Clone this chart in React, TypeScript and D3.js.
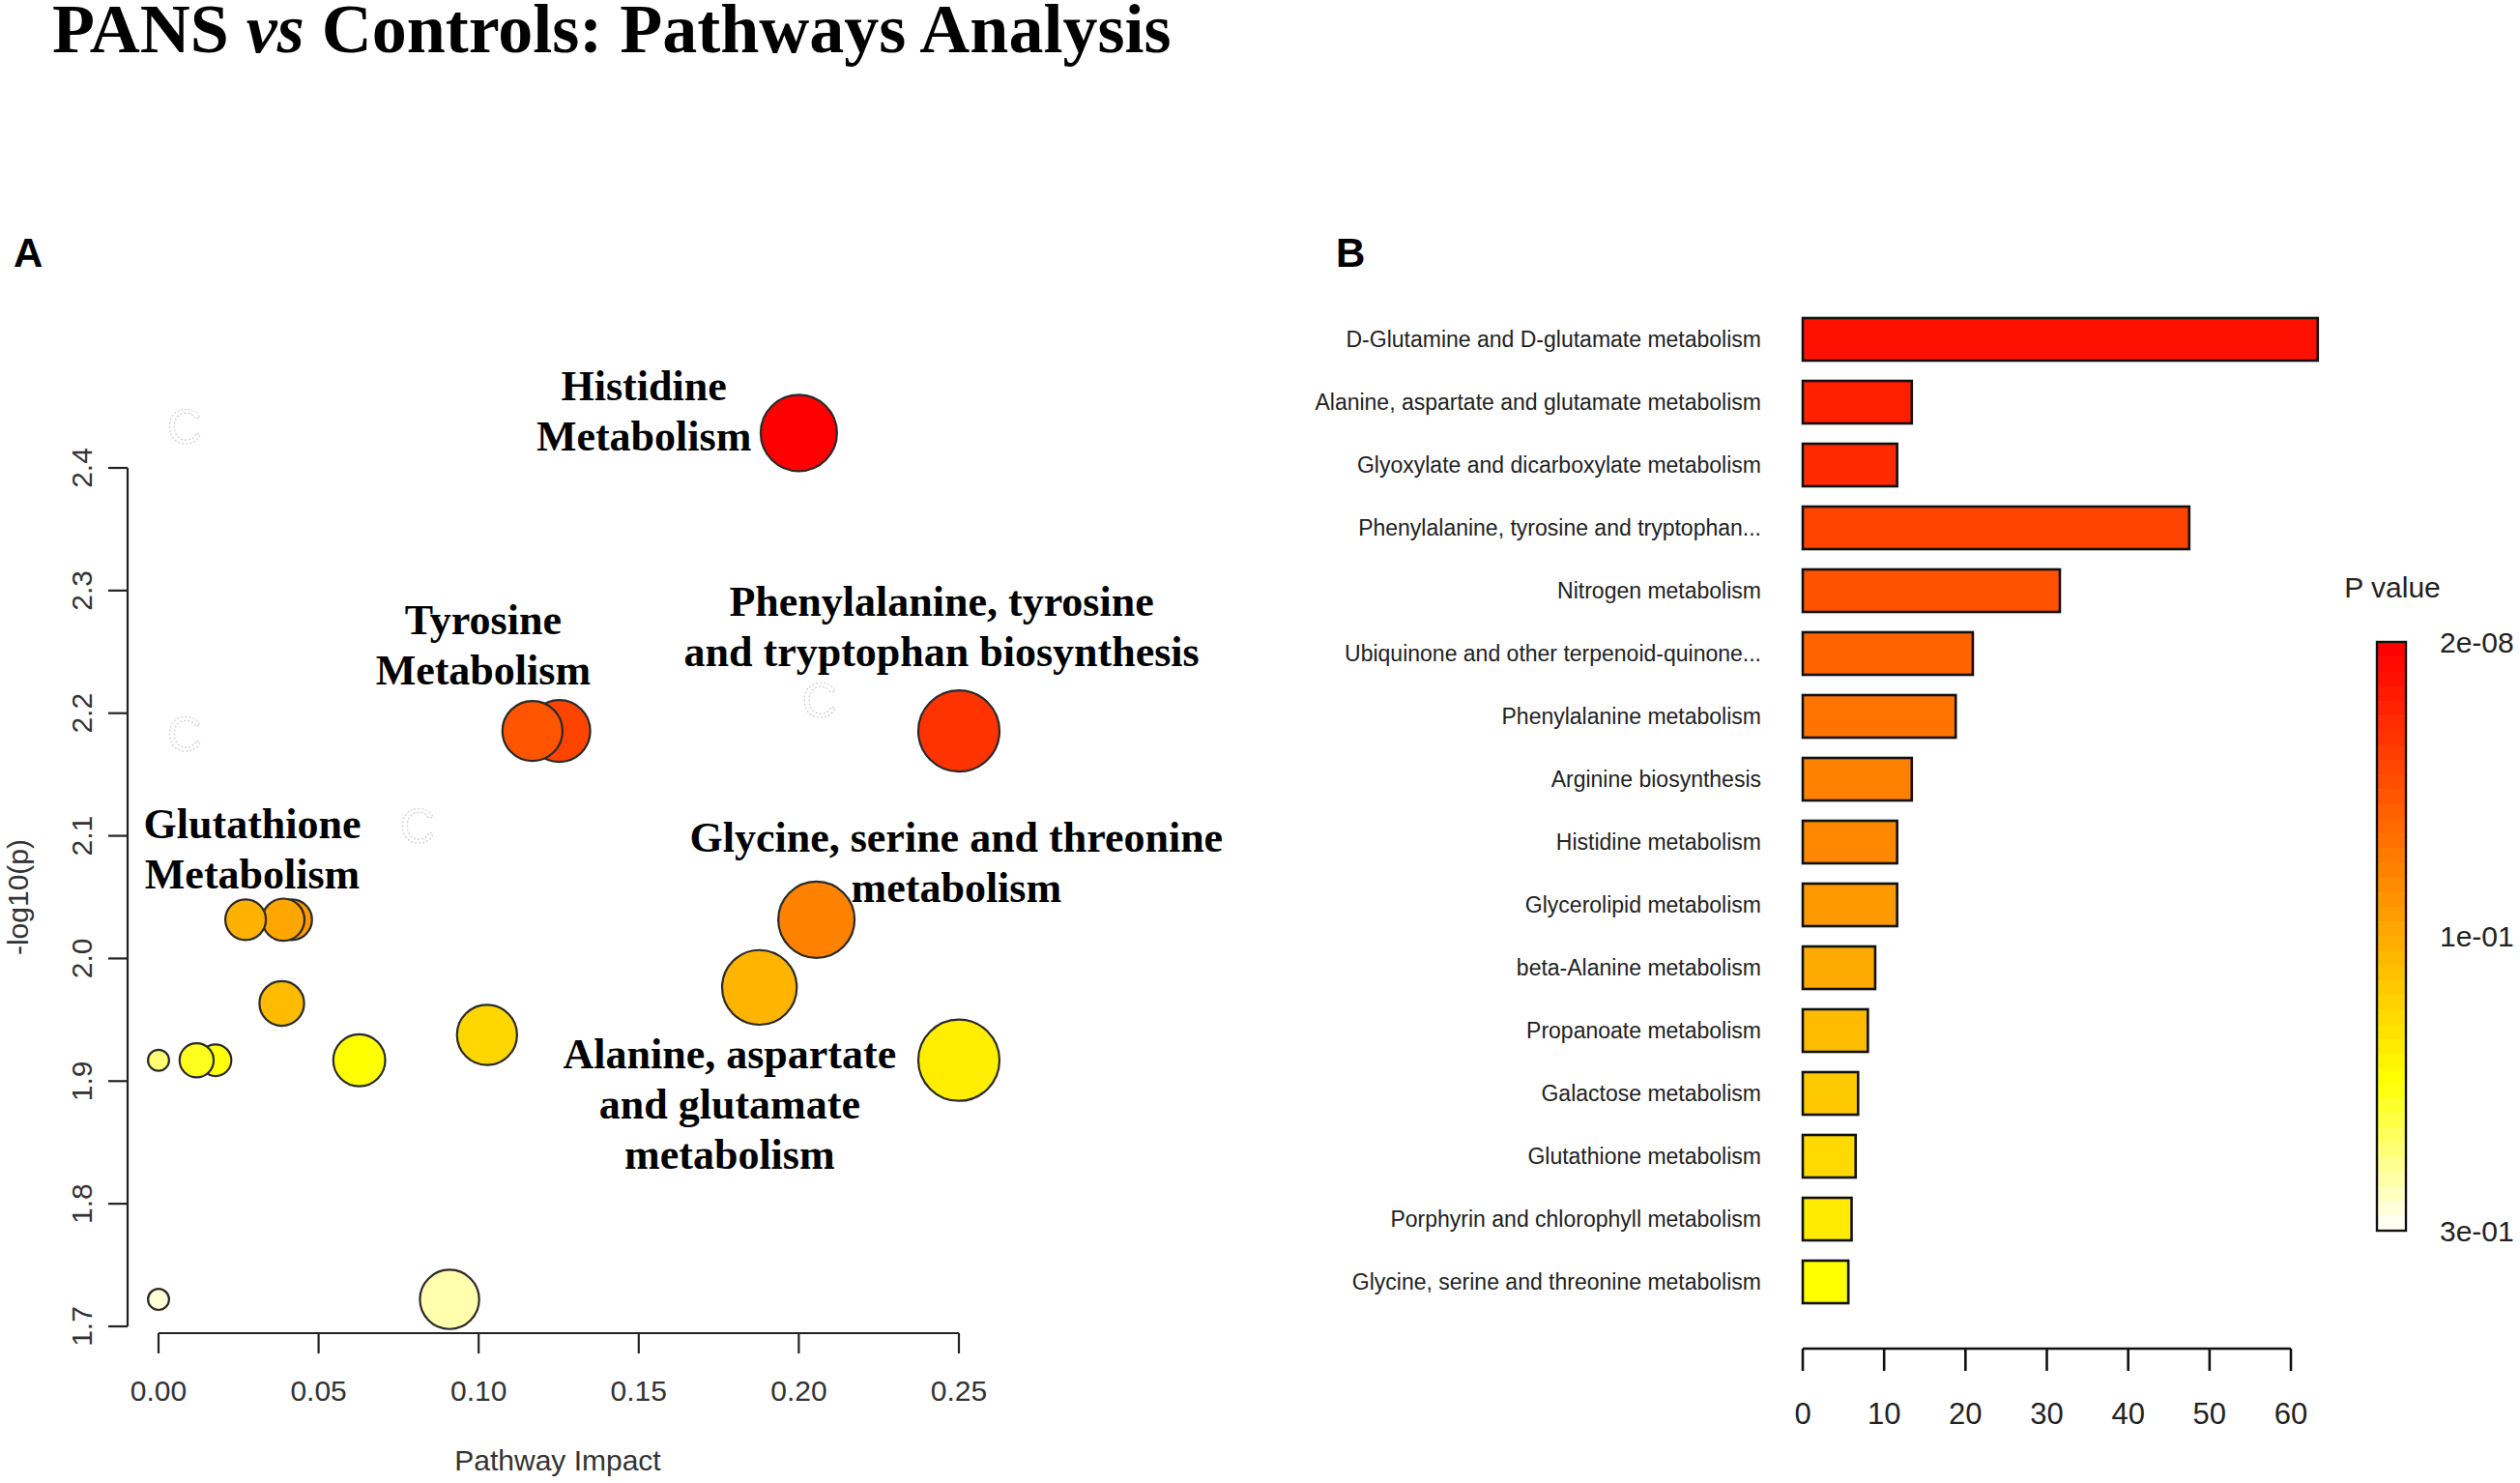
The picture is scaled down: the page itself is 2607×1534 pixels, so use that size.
import * as d3 from "d3";

// ---- Panel A: pathway impact bubbles (drawn in this order) ----
const DOT_IMPACT = [0.2, 0.1252, 0.1168, 0.25, 0.2055, 0.1877, 0.25, 0.0416, 0.039, 0.0272, 0.0385, 0.1026, 0.0627, 0.0178, 0.0119, 0.0, 0.0909, 0.0];
const DOT_LOGP = [2.4285, 2.1855, 2.1855, 2.1855, 2.0316, 1.9764, 1.917, 2.0316, 2.0316, 2.0316, 1.9633, 1.9377, 1.917, 1.917, 1.917, 1.917, 1.722, 1.722];
const DOT_SIZE = [0.94, 0.76, 0.74, 1, 0.94, 0.92, 1, 0.5, 0.52, 0.5, 0.55, 0.74, 0.64, 0.39, 0.42, 0.26, 0.73, 0.26];
const DOT_HEAT = [0, 0.2, 0.25, 0.15, 0.38, 0.53, 0.7, 0.45, 0.49, 0.52, 0.55, 0.63, 0.75, 0.76, 0.78, 0.87, 0.93, 0.97];

const X_TICKS_A = [0, 0.05, 0.1, 0.15, 0.2, 0.25];
const Y_TICKS_A = [1.7, 1.8, 1.9, 2.0, 2.1, 2.2, 2.3, 2.4];

const LABEL_LINES = [
  ["Histidine", "Metabolism"],
  ["Tyrosine", "Metabolism"],
  ["Phenylalanine, tyrosine", "and tryptophan biosynthesis"],
  ["Glutathione", "Metabolism"],
  ["Glycine, serine and threonine", "metabolism"],
  ["Alanine, aspartate", "and glutamate", "metabolism"],
];
const LABEL_IMPACT = [0.1516, 0.1014, 0.2446, 0.0293, 0.2492, 0.1784];
const LABEL_LOGP = [2.455, 2.2644, 2.2794, 2.0981, 2.0871, 1.9105];

// faint ghost glyphs in the original figure
const GHOST_IMPACT = [0.0082, 0.0082, 0.2065, 0.0809];
const GHOST_LOGP = [2.433, 2.1824, 2.21, 2.1076];

// ---- Panel B: enrichment bars ----
const BAR_NAMES = [
  "D-Glutamine and D-glutamate metabolism",
  "Alanine, aspartate and glutamate metabolism",
  "Glyoxylate and dicarboxylate metabolism",
  "Phenylalanine, tyrosine and tryptophan...",
  "Nitrogen metabolism",
  "Ubiquinone and other terpenoid-quinone...",
  "Phenylalanine metabolism",
  "Arginine biosynthesis",
  "Histidine metabolism",
  "Glycerolipid metabolism",
  "beta-Alanine metabolism",
  "Propanoate metabolism",
  "Galactose metabolism",
  "Glutathione metabolism",
  "Porphyrin and chlorophyll metabolism",
  "Glycine, serine and threonine metabolism",
];
const BAR_VALUES = [63.3, 13.4, 11.6, 47.5, 31.6, 20.9, 18.8, 13.4, 11.6, 11.6, 8.9, 8.0, 6.8, 6.5, 6.0, 5.6];
const BAR_HEAT = [0.047, 0.094, 0.124, 0.2, 0.24, 0.29, 0.34, 0.38, 0.4, 0.45, 0.5, 0.55, 0.59, 0.64, 0.69, 0.75];
const X_TICKS_B = [0, 10, 20, 30, 40, 50, 60];
const CBAR_LABELS = ["2e-08", "1e-01", "3e-01"];

const W = 2607;
const H = 1534;
const SANS = "'Liberation Sans', Arial, sans-serif";
const SERIF = "'Liberation Serif', 'Times New Roman', serif";

const heat = d3
  .scaleLinear<string>()
  .domain([0, 0.75, 1])
  .range(["#ff0000", "#ffff00", "#fffff2"])
  .interpolate(d3.interpolateHsl);

export default function App() {
  // panel A scales
  const x = d3.scaleLinear().domain([0, 0.25]).range([164, 992]);
  const y = d3.scaleLinear().domain([1.7, 2.4]).range([1372, 484]);
  const r = d3.scaleLinear().domain([0, 1]).range([0, 42]);
  const axisY = 1379;
  const axisX = 132;

  // panel B scales
  const bx = d3.scaleLinear().domain([0, 60]).range([1865, 2370]);
  const by = d3.scaleBand<string>().domain(BAR_NAMES).range([308, 1369]).padding(0.323);
  const bAxisY = 1395;

  const cbTop = 664;
  const cbBot = 1273;
  const steps = d3.range(40);
  const cbY = d3.scaleLinear().domain([0, steps.length]).range([cbTop, cbBot]);
  const cbLab = d3.scalePoint<string>().domain(CBAR_LABELS).range([cbTop, cbBot]);

  return (
    <svg width={W} height={H} style={{ position: "absolute", left: 0, top: 0, background: "#fff" }}>
      <rect width={W} height={H} fill="#fff" />
      <text x={54} y={54} fontFamily={SERIF} fontWeight="bold" fontSize={72} fill="#000">
        PANS <tspan fontStyle="italic">vs</tspan> Controls: Pathways Analysis
      </text>

      <text x={14} y={276} fontFamily={SANS} fontWeight="bold" fontSize={42}>A</text>
      <text x={1382} y={276} fontFamily={SANS} fontWeight="bold" fontSize={42}>B</text>

      {/* Panel A axes */}
      <g stroke="#222" strokeWidth={2.2} fill="none">
        <line x1={axisX} x2={axisX} y1={y(2.4)} y2={y(1.7)} />
        {Y_TICKS_A.map((t) => (
          <line key={t} x1={axisX} x2={axisX - 20} y1={y(t)} y2={y(t)} />
        ))}
        <line x1={x(0)} x2={x(0.25)} y1={axisY} y2={axisY} />
        {X_TICKS_A.map((t) => (
          <line key={t} x1={x(t)} x2={x(t)} y1={axisY} y2={axisY + 21} />
        ))}
      </g>
      <g fontFamily={SANS} fontSize={30} fill="#333">
        {Y_TICKS_A.map((t) => (
          <text key={t} transform={`translate(84,${y(t)}) rotate(-90)`} textAnchor="middle" dominantBaseline="central">
            {d3.format(".1f")(t)}
          </text>
        ))}
        {X_TICKS_A.map((t) => (
          <text key={t} x={x(t)} y={1438} textAnchor="middle" dominantBaseline="central">
            {d3.format(".2f")(t)}
          </text>
        ))}
        <text x={577} y={1510} textAnchor="middle" dominantBaseline="central">Pathway Impact</text>
        <text transform={`translate(18,${(y(2.4) + y(1.7)) / 2}) rotate(-90)`} textAnchor="middle" dominantBaseline="central">
          -log10(p)
        </text>
      </g>

      {/* ghost glyphs */}
      <g fontFamily={SANS} fontSize={50} fill="none" stroke="#d0d0d0" strokeWidth={1.2} strokeDasharray="2 2">
        {GHOST_IMPACT.map((g, i) => (
          <text key={i} x={x(g)} y={y(GHOST_LOGP[i])} textAnchor="middle" dominantBaseline="central">C</text>
        ))}
      </g>

      {/* bubbles */}
      <g stroke="#2a2a2a" strokeWidth={2.2}>
        {DOT_IMPACT.map((d, i) => (
          <circle key={i} cx={x(d)} cy={y(DOT_LOGP[i])} r={r(DOT_SIZE[i])} fill={heat(DOT_HEAT[i])} />
        ))}
      </g>

      {/* annotations */}
      <g fontFamily={SERIF} fontWeight="bold" fontSize={44} fill="#000" textAnchor="middle">
        {LABEL_LINES.map((lines, i) => (
          <text key={i} x={x(LABEL_IMPACT[i])} y={y(LABEL_LOGP[i])}>
            {lines.map((l, j) => (
              <tspan key={j} x={x(LABEL_IMPACT[i])} dy={j === 0 ? 0 : 52}>
                {l}
              </tspan>
            ))}
          </text>
        ))}
      </g>

      {/* Panel B bars */}
      <g stroke="#111" strokeWidth={2.6}>
        {BAR_NAMES.map((n, i) => (
          <rect
            key={n}
            x={bx(0)}
            y={by(n)}
            width={bx(BAR_VALUES[i]) - bx(0)}
            height={by.bandwidth()}
            fill={heat(BAR_HEAT[i])}
          />
        ))}
      </g>
      <g fontFamily={SANS} fontSize={23} fill="#222" textAnchor="end">
        {BAR_NAMES.map((n) => (
          <text key={n} x={1822} y={(by(n) ?? 0) + by.bandwidth() / 2} dominantBaseline="central">
            {n}
          </text>
        ))}
      </g>
      <g stroke="#111" strokeWidth={2.6}>
        <line x1={bx(0)} x2={bx(60)} y1={bAxisY} y2={bAxisY} />
        {X_TICKS_B.map((t) => (
          <line key={t} x1={bx(t)} x2={bx(t)} y1={bAxisY} y2={bAxisY + 23} />
        ))}
      </g>
      <g fontFamily={SANS} fontSize={31} fill="#222" textAnchor="middle">
        {X_TICKS_B.map((t) => (
          <text key={t} x={bx(t)} y={1462} dominantBaseline="central">{t}</text>
        ))}
      </g>

      {/* colour bar */}
      <g>
        {steps.map((s) => (
          <rect
            key={s}
            x={2459}
            y={cbY(s)}
            width={30}
            height={cbY(s + 1) - cbY(s) + 0.6}
            fill={heat(s / (steps.length - 1))}
          />
        ))}
        <rect x={2459} y={cbTop} width={30} height={cbBot - cbTop} fill="none" stroke="#111" strokeWidth={2.4} />
      </g>
      <g fontFamily={SANS} fontSize={30} fill="#222">
        <text x={2475} y={607} textAnchor="middle" dominantBaseline="central">P value</text>
        {CBAR_LABELS.map((l) => (
          <text key={l} x={2524} y={cbLab(l)} dominantBaseline="central">{l}</text>
        ))}
      </g>
    </svg>
  );
}
